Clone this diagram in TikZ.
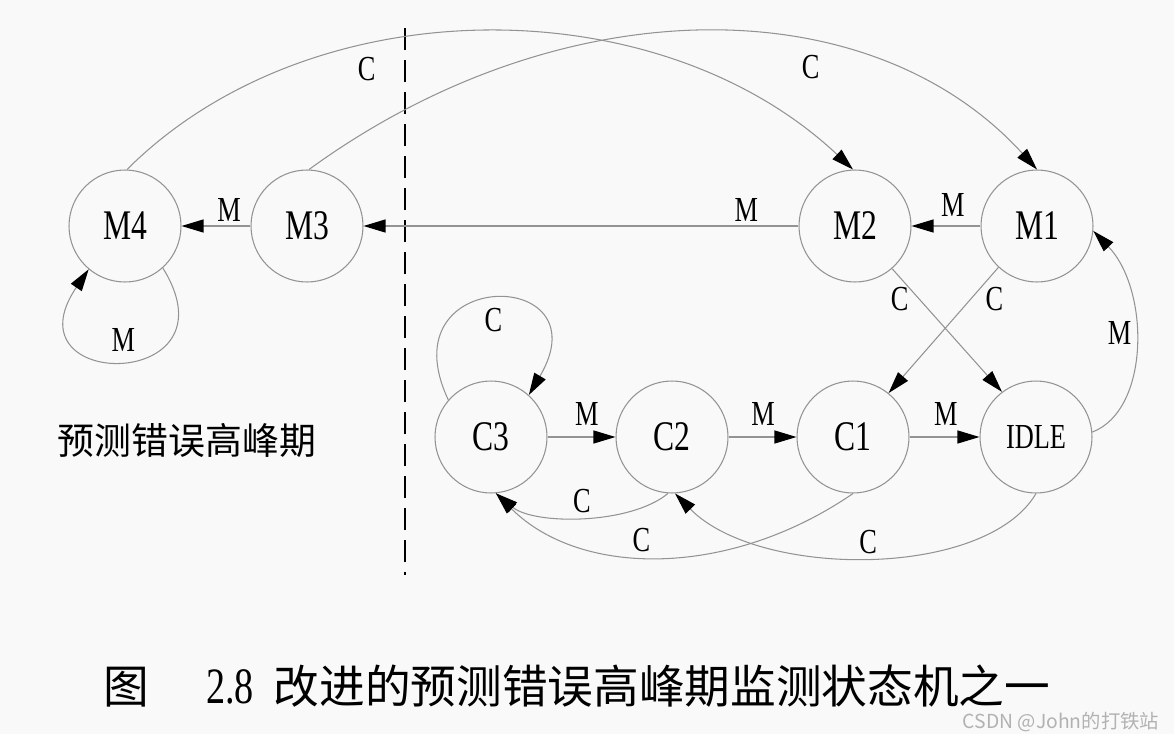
\documentclass[tikz,border=0pt]{standalone}
\usepackage{fontspec}
\setmainfont{Liberation Serif}[FakeStretch=0.75]
\newfontfamily\cjk{Noto Sans CJK SC}
\usepackage{tikz}
\usetikzlibrary{arrows.meta}

\begin{document}
\begin{tikzpicture}[x=0.02cm,y=-0.02cm,line join=round,
  state/.style={circle,draw=gray!85,line width=0.6pt,minimum size=2.24cm,inner sep=0pt,font=\fontsize{24}{26}\selectfont},
  trans/.style={draw=gray!85,line width=0.6pt,-{Triangle[length=0.44cm,width=0.26cm,color=black]}},
  lbl/.style={font=\fontsize{20}{22}\selectfont,inner sep=2pt},
  divider/.style={line width=1.1pt,dash pattern=on 0.44cm off 0.2cm}]
  \useasboundingbox (0,0) rectangle (1174,734);
  \fill[gray!5] (0,0) rectangle (1174,734);
  \coordinate (DTop) at (405,28);
  \coordinate (DBot) at (405,575);
  \draw[divider] (DTop) -- (DBot);
  \node[state] (M4) at (125,226) {M4};
  \node[state] (M3) at (307,226) {M3};
  \node[state] (M2) at (855,226) {M2};
  \node[state] (M1) at (1037,226) {M1};
  \node[state] (C3) at (491,437) {C3};
  \node[state] (C2) at (672,437) {C2};
  \node[state] (C1) at (853,437) {C1};
  \node[state,font=\fontsize{20}{22}\selectfont] (IDLE) at (1036,437) {IDLE};
  \draw[trans] (M1) -- node[lbl,above=3pt,pos=0.4] {M} (M2);
  \draw[trans] (M2) -- node[lbl,above,pos=0.12] {M} (M3);
  \draw[trans] (M3) -- node[lbl,above,pos=0.31] {M} (M4);
  \draw[trans] (C3) -- node[lbl,above=4pt,pos=0.58] {M} (C2);
  \draw[trans] (C2) -- node[lbl,above=4pt,pos=0.51] {M} (C1);
  \draw[trans] (C1) -- node[lbl,above=4pt,pos=0.52] {M} (IDLE);
  \draw[trans] (M4.88) .. controls (311,-14) and (658,-14) .. node[lbl,below=5pt,pos=0.35] {C} (M2.92);
  \draw[trans] (M3.88) .. controls (561,-14) and (870,-14) .. node[lbl,below=5pt,pos=0.64] {C} (M1.90);
  \draw[trans] (M4.-48) .. controls (240,392) and (5,392) .. node[lbl,above=3pt,pos=0.5] {M} (M4.-130);
  \draw[trans] (C3.139) .. controls (385,266) and (605,266) .. node[lbl,below=3pt,pos=0.5] {C} (C3.48);
  \draw[trans] (M2.-49) -- node[lbl,left=4pt,pos=0.25] {C} (IDLE.127);
  \draw[trans] (M1.-133) -- node[lbl,right=6pt,pos=0.25] {C} (C1.51);
  \draw[trans] (IDLE.5) .. controls (1150,410) and (1150,290) .. node[lbl,left,pos=0.55] {M} (M1.-5);
  \draw[trans] (C2.-94) .. controls (630,525) and (534,525) .. node[lbl,above,pos=0.5] {C} (C3.-85);
  \draw[trans] (C1.-90) .. controls (730,578) and (581,578) .. node[lbl,above,pos=0.55] {C} (C3.-85);
  \draw[trans] (IDLE.-90) .. controls (986,579) and (759,579) .. node[lbl,above,pos=0.5] {C} (C2.-87);
  \node[font=\cjk\fontsize{21}{24}\selectfont] (Zone) at (187,440) {预测错误高峰期};
  \node[anchor=west,inner sep=0pt,font=\fontsize{26}{30}\selectfont] (Caption) at (103,686) {{\cjk 图}\hspace{1.14cm}{\fontsize{29}{30}\selectfont 2.8}\hspace{0.4cm}{\cjk 改进的预测错误高峰期监测状态机之一}};
  \node[font=\cjk\fontsize{11}{13}\selectfont,text=gray!60,inner sep=1pt] (Mark) at (1061,722) {CSDN @John的打铁站};
\end{tikzpicture}
\end{document}
